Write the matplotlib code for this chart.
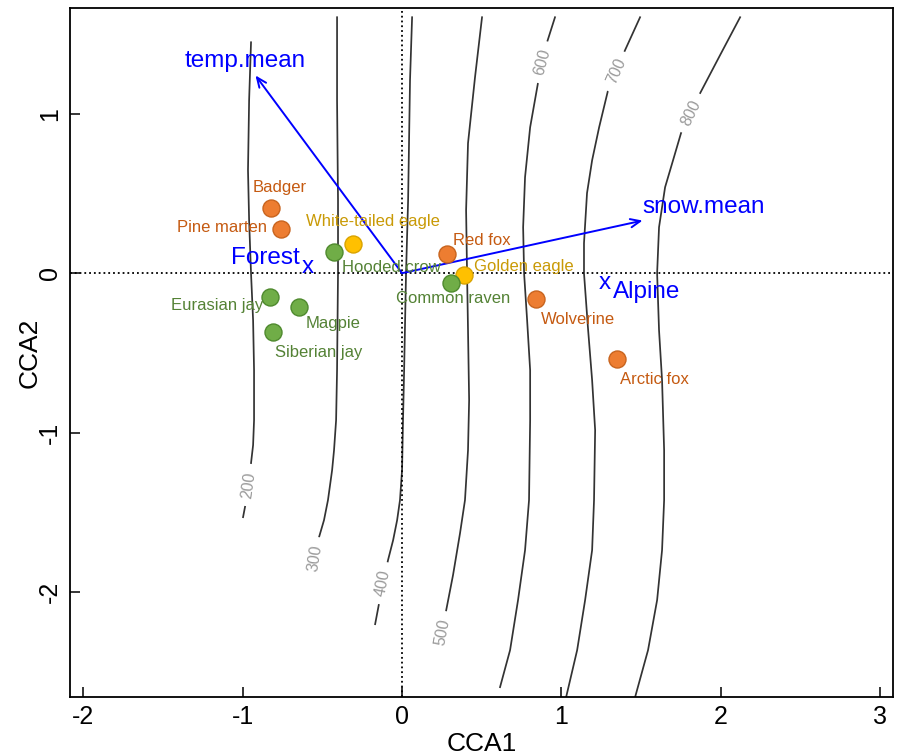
import matplotlib
matplotlib.use('Agg')
import matplotlib.pyplot as plt
import numpy as np

plt.rcParams['font.family'] = ['Liberation Sans', 'DejaVu Sans']
plt.rcParams['axes.unicode_minus'] = False

# species scores
species = ['Badger', 'Pine marten', 'White-tailed eagle', 'Hooded crow', 'Red fox',
           'Golden eagle', 'Common raven', 'Wolverine', 'Arctic fox',
           'Eurasian jay', 'Magpie', 'Siberian jay']
cca1 = [-0.82, -0.76, -0.31, -0.43, 0.28, 0.39, 0.31, 0.84, 1.35, -0.83, -0.65, -0.81]
cca2 = [0.41, 0.28, 0.18, 0.13, 0.12, -0.01, -0.06, -0.16, -0.54, -0.15, -0.21, -0.37]
group = ['mammal', 'mammal', 'raptor', 'corvid', 'mammal', 'raptor', 'corvid',
         'mammal', 'mammal', 'corvid', 'corvid', 'corvid']

# environmental vectors
env_names = ['temp.mean', 'snow.mean']
env_cca1 = [-0.92, 1.51]
env_cca2 = [1.24, 0.33]

# habitat centroids
habitat = ['Forest', 'Alpine']
hab_cca1 = [-0.59, 1.27]
hab_cca2 = [0.04, -0.06]

# fitted surface (contour lines)
levels = [200, 300, 400, 500, 600, 700, 800]
cont_x = {
    200: [-0.948, -0.960, -0.967, -0.960, -0.948, -0.935, -0.929, -0.929, -0.935, -0.948,
          -0.960, -0.986, -0.998],
    300: [-0.408, -0.408, -0.402, -0.402, -0.408, -0.414, -0.427, -0.439, -0.465, -0.490, -0.521],
    400: [0.063, 0.050, 0.044, 0.038, 0.025, 0.013, 0.006, 0.0, -0.013, -0.031, -0.056, -0.088,
          -0.119, -0.144, -0.169],
    500: [0.502, 0.458, 0.414, 0.402, 0.408, 0.414, 0.421, 0.414, 0.395, 0.364, 0.320, 0.276],
    600: [0.960, 0.910, 0.879, 0.854, 0.804, 0.772, 0.760, 0.766, 0.785, 0.804, 0.804, 0.797,
          0.772, 0.728, 0.678, 0.615],
    700: [1.494, 1.394, 1.343, 1.293, 1.237, 1.193, 1.161, 1.142, 1.142, 1.168, 1.193, 1.212,
          1.205, 1.193, 1.149, 1.099, 1.030],
    800: [2.122, 1.996, 1.871, 1.814, 1.751, 1.701, 1.651, 1.613, 1.601, 1.613, 1.632, 1.645,
          1.645, 1.632, 1.601, 1.544, 1.463],
}
cont_y = {
    200: [1.448, 1.085, 0.646, 0.332, 0.0, -0.295, -0.608, -0.922, -1.078, -1.191,
          -1.329, -1.467, -1.530],
    300: [1.605, 1.085, 0.458, 0.0, -0.608, -0.922, -1.110, -1.235, -1.423, -1.549, -1.655],
    400: [1.605, 1.210, 0.834, 0.458, 0.0, -0.608, -0.922, -1.235, -1.423, -1.549, -1.674, -1.799,
          -1.944, -2.069, -2.201],
    500: [1.605, 1.229, 0.815, 0.395, 0.0, -0.357, -0.796, -1.110, -1.423, -1.630, -1.893, -2.119],
    600: [1.605, 1.448, 1.323, 1.197, 0.915, 0.602, 0.288, 0.0, -0.295, -0.608, -0.922, -1.423,
          -1.737, -2.050, -2.364, -2.596],
    700: [1.605, 1.386, 1.266, 1.147, 0.915, 0.708, 0.502, 0.188, 0.0, -0.357, -0.671, -0.984,
          -1.423, -1.737, -2.050, -2.364, -2.658],
    800: [1.605, 1.367, 1.129, 1.003, 0.878, 0.708, 0.539, 0.288, 0.0, -0.357, -0.671, -1.110,
          -1.423, -1.737, -2.050, -2.364, -2.658],
}
# contour label placement (x, y, angle)
cont_lab = {
    200: (-0.960, -1.329, 82),
    300: (-0.546, -1.787, 81),
    400: (-0.119, -1.944, 79),
    500: (0.251, -2.251, 79),
    600: (0.882, 1.323, 75),
    700: (1.343, 1.266, 66),
    800: (1.814, 1.003, 64),
}

fill = {'mammal': '#ED7D31', 'raptor': '#FFC000', 'corvid': '#70AD47'}
edge = {'mammal': '#C8641E', 'raptor': '#D9A300', 'corvid': '#4F8A2E'}
txtcol = {'mammal': '#C55A11', 'raptor': '#C99A06', 'corvid': '#548235'}
# label offsets in pixels (dx, dy) and alignment
lab_off = {
    'Badger': (8, 20, 'center'), 'Pine marten': (-14, 1, 'right'),
    'White-tailed eagle': (20, 23, 'center'), 'Hooded crow': (8, -15, 'left'),
    'Red fox': (6, 14, 'left'), 'Golden eagle': (10, 8, 'left'),
    'Common raven': (2, -16, 'center'), 'Wolverine': (5, -21, 'left'),
    'Arctic fox': (3, -20, 'left'), 'Eurasian jay': (-7, -8, 'right'),
    'Magpie': (7, -17, 'left'), 'Siberian jay': (2, -20, 'left'),
}

fig = plt.figure(figsize=(8.98, 7.56), dpi=100)
ax = fig.add_axes([0.078, 0.078, 0.9165, 0.911])

for lev in levels:
    ax.plot(cont_x[lev], cont_y[lev], color='#333333', lw=1.25, zorder=1,
            solid_joinstyle='round')
    lx, ly, rot = cont_lab[lev]
    ax.text(lx, ly, str(lev), rotation=rot, rotation_mode='anchor', ha='center', va='center',
            fontsize=11.5, color='#9a9a9a', zorder=2,
            bbox=dict(boxstyle='square,pad=0.5', fc='white', ec='none'))

ax.axhline(0, color='black', ls=':', lw=1.3, zorder=3)
ax.axvline(0, color='black', ls=':', lw=1.3, zorder=3)

for name, ex, ey in zip(env_names, env_cca1, env_cca2):
    ax.annotate('', xy=(ex, ey), xytext=(0, 0),
                arrowprops=dict(arrowstyle='->,head_length=0.7,head_width=0.3', color='blue', lw=1.4,
                                shrinkA=0, shrinkB=0), zorder=4)
ax.text(-0.986, 1.329, env_names[0], color='blue', fontsize=17.5, ha='center', va='center', zorder=5)
ax.text(1.890, 0.414, env_names[1], color='blue', fontsize=17.5, ha='center', va='center', zorder=5)

for i, (h, hx, hy) in enumerate(zip(habitat, hab_cca1, hab_cca2)):
    ax.text(hx, hy, 'x', color='blue', fontsize=17.5, ha='center', va='center', zorder=5)
    if i == 0:
        ax.annotate(h, (hx, hy), xytext=(-6, 6), textcoords='offset points', color='blue',
                    fontsize=17.5, ha='right', va='center', zorder=5)
    else:
        ax.annotate(h, (hx, hy), xytext=(6, -6.5), textcoords='offset points', color='blue',
                    fontsize=17.5, ha='left', va='center', zorder=5)

for s, x, y, g in zip(species, cca1, cca2, group):
    ax.scatter(x, y, s=150, c=fill[g], edgecolors=edge[g], linewidths=1.0, zorder=6)
    dx, dy, ha = lab_off[s]
    ax.annotate(s, (x, y), xytext=(dx * 0.72, dy * 0.72), textcoords='offset points',
                ha=ha, va='center', fontsize=12, color=txtcol[g], zorder=7)

ax.set_xlim(-2.084, 3.082)
ax.set_ylim(-2.658, 1.661)
ax.set_xticks([-2, -1, 0, 1, 2, 3])
ax.set_yticks([-2, -1, 0, 1])
ax.tick_params(direction='in', length=7, width=1.1, pad=6, labelsize=18)
plt.setp(ax.get_yticklabels(), rotation=90, va='center')
ax.set_xlabel('CCA1', fontsize=19, labelpad=2)
ax.set_ylabel('CCA2', fontsize=19, labelpad=-3)
for sp in ax.spines.values():
    sp.set_linewidth(1.3)

fig.savefig('out.png', dpi=100)
